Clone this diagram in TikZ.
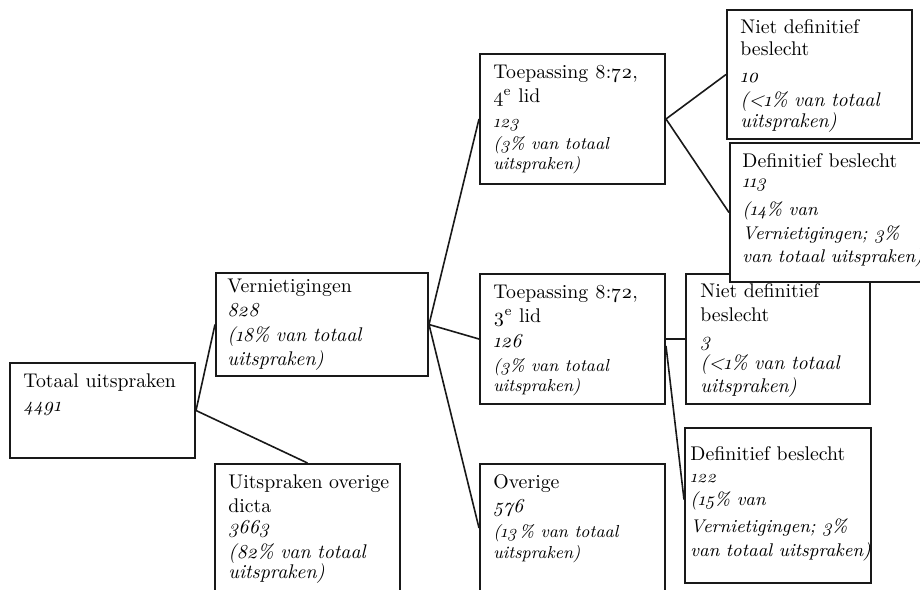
\documentclass[tikz,border=0pt]{standalone}
\usepackage{fontspec}
\setmainfont{Latin Modern Roman}[Numbers=OldStyle]
% font helpers: normal italic, compact italic (wide boxes) and small italic
\newcommand\itn[1]{{\fontsize{9.9}{12.25}\selectfont\itshape #1}}
\newcommand\itc[1]{{\fontsize{9.2}{12.25}\selectfont\itshape #1}}
\newcommand\its[1]{{\fontsize{8.7}{12.25}\selectfont\itshape #1}}
\begin{document}
\begin{tikzpicture}[x=0.5pt,y=-0.5pt,
  box/.style={draw=black!90, line width=1pt, fill=white, inner sep=0pt,
    anchor=north west},
  boxtext/.style={inner sep=0pt, anchor=base west, text width=120pt,
    align=left, text=black, font=\fontsize{9.9}{12.25}\selectfont},
  link/.style={draw=black!90, line width=0.8pt}]
\useasboundingbox (0,0) rectangle (920,589);
\clip (0,0) rectangle (920,589);

% boxes
\node[box, minimum width=185pt*0.5, minimum height=95pt*0.5]  (b1)  at (9,362)   {};
\node[box, minimum width=212pt*0.5, minimum height=103pt*0.5] (b2)  at (215,272) {};
\node[box, minimum width=185pt*0.5, minimum height=128pt*0.5] (b3)  at (214,463) {};
\node[box, minimum width=185pt*0.5, minimum height=130pt*0.5] (b4)  at (479,53)  {};
\node[box, minimum width=185pt*0.5, minimum height=130pt*0.5] (b5)  at (479,273) {};
\node[box, minimum width=185pt*0.5, minimum height=128pt*0.5] (b6)  at (479,463) {};
\node[box, minimum width=185pt*0.5, minimum height=129pt*0.5] (b7)  at (726,9)   {};
\node[box, minimum width=184pt*0.5, minimum height=130pt*0.5] (b9)  at (685,273) {};
\node[box, minimum width=201pt*0.5, minimum height=139pt*0.5] (b8)  at (729,142) {};
\node[box, minimum width=186pt*0.5, minimum height=155pt*0.5] (b10) at (684,427) {};

% box texts
\node[boxtext] (t1) at (23,387) {Totaal uitspraken\\ \itn{4491}};
\node[boxtext] (t2) at (227,292) {Vernietigingen\\ \itn{828}\\ \itn{(18\% van totaal}\\ \itn{uitspraken)}};
\node[boxtext] (t3) at (228,488) {Uitspraken overige\\ dicta\\[-1.75pt] \itn{3663}\\[0.25pt] \itn{(82\% van totaal}\\[-2.25pt] \itn{uitspraken)}};
\node[boxtext] (t4) at (493,78) {Toepassing 8:72,\\ 4\textsuperscript{e} lid\\ \its{123}\\[-1.25pt] \its{(3\% van totaal}\\[-2.25pt] \its{uitspraken)}};
\node[boxtext] (t5) at (493,298) {Toepassing 8:72,\\ 3\textsuperscript{e} lid\\ \itn{126}\\ \its{(3\% van totaal}\\[-2.25pt] \its{uitspraken)}};
\node[boxtext] (t6) at (493,488) {Overige\\ \itn{576}\\ \its{(13\,\% van totaal}\\[-1.75pt] \its{uitspraken)}};
\node[boxtext] (t7) at (740,33) {Niet definitief\\[-1.25pt] beslecht\\[1.25pt] \itn{10}\\ \itn{(<1\% van totaal}\\[-1.75pt] \itn{uitspraken)}};
\node[boxtext] (t8) at (742,167) {Definitief beslecht\\[-2.25pt] \itc{113}\\[1.75pt] \itc{(14\% van}\\ \itc{Vernietigingen; 3\%}\\[-0.75pt] \itc{van totaal uitspraken)}};
\node[boxtext] (t9) at (700,297) {Niet definitief\\ beslecht\\ \itn{3}\\[-0.75pt] \itn{(<1\% van totaal}\\[-0.75pt] \itn{uitspraken)}};
\node[boxtext] (t10) at (690,460) {Definitief beslecht\\[-1.25pt] \its{122}\\[-0.75pt] \itc{(15\% van}\\[1.25pt] \itc{Vernietigingen; 3\%}\\ \itc{van totaal uitspraken)}};

% connectors
\draw[link] (b1.east) -- (b2.west);
\draw[link] (b1.east) -- (b3.north);
\draw[link] (b2.east) -- (b4.west);
\draw[link] (b2.east) -- (b5.west);
\draw[link] (b2.east) -- (b6.west);
\draw[link] (b4.east) -- (b7.west);
\draw[link] (b4.east) -- (b8.west);
\draw[link] (b5.east) -- (b9.west);
\draw[link] ([shift={(0,7)}]b5.east) -- ([shift={(0,-6)}]b10.west);
\end{tikzpicture}
\end{document}
